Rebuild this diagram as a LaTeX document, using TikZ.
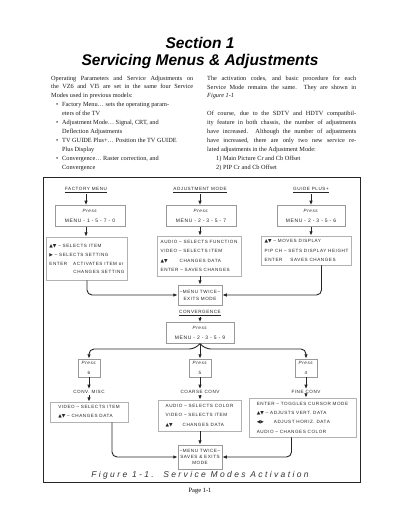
\documentclass[tikz,border=0pt]{standalone}
\usepackage{fontspec}
\setmainfont{Liberation Serif}
\newfontfamily\ttlfont{Liberation Sans}
\newfontfamily\dgfont[LetterSpace=12]{Liberation Sans}
\newfontfamily\capfont[LetterSpace=28]{Liberation Sans}
\newfontfamily\symfont{DejaVu Sans}
\usetikzlibrary{arrows.meta}
\newcommand\UD{{\symfont ▲▼}}
\newcommand\RT{{\symfont ▶}}
\newcommand\LR{{\symfont ◀▶}}
\newcommand\JL[2]{\makebox[#1][s]{#2}}
\newcommand\BL[1]{\hspace*{5pt}\makebox[6pt][l]{•}#1}
\newcommand\BC[1]{\hspace*{11pt}#1}
\newcommand\CODE[1]{{\fontsize{5}{9.3}\selectfont #1}}
\tikzset{
  body/.style={font=\fontsize{6.3}{8.9}\selectfont, align=left, inner sep=0pt, text=black!90},
  dg/.style={font=\dgfont\fontsize{4.6}{9.3}\selectfont, text=black!85, inner sep=1pt},
  hd/.style={dg},
  pbox/.style={dg, draw=black!40, line width=0.5pt, align=center, minimum height=21pt, inner sep=1.5pt},
  dbox/.style={dg, draw=black!30, line width=0.5pt, align=left, inner sep=3pt},
  con/.style={line width=0.9pt, draw=black!85},
  arr/.style={con, -{Latex[length=4.5pt,width=3.5pt]}},
}
\begin{document}
\begin{tikzpicture}[x=1pt,y=-1pt]
\useasboundingbox (0,0) rectangle (400,518);
\fill[white] (0,0) rectangle (400,518);
% title
\node[font=\ttlfont\bfseries\itshape\fontsize{15.5}{18}\selectfont, inner sep=0] (t1) at (200,43) {Section 1};
\node[font=\ttlfont\bfseries\itshape\fontsize{15.5}{18}\selectfont, inner sep=0] (t2) at (200,61) {Servicing Menus \& Adjustments};
% body columns
\node[body, anchor=north west] (lc) at (51,75.5) {%
\JL{142pt}{Operating Parameters and Service Adjustments on}\\
\JL{142pt}{the VZ6 and VI5 are set in the same four Service}\\
Modes used in previous models:\\
\BL{Factory Menu… sets the operating param-}\\
\BC{eters of the TV}\\
\BL{Adjustment Mode… Signal, CRT, and}\\
\BC{Deflection Adjustments}\\
\BL{TV GUIDE Plus+… Position the TV GUIDE}\\
\BC{Plus Display}\\
\BL{Convergence… Raster correction, and}\\
\BC{Convergence}};
\node[body, anchor=north west] (rc) at (207,75.5) {%
\JL{149pt}{The activation codes, and basic procedure for each}\\
\JL{149pt}{Service Mode remains the same.\ \ They are shown in}\\
\textit{Figure 1-1}\\
\mbox{}\\
\JL{149pt}{Of course, due to the SDTV and HDTV compatibil-}\\
\JL{149pt}{ity feature in both chassis, the number of adjustments}\\
\JL{149pt}{have increased.\ \ Although the number of adjustments}\\
\JL{149pt}{have increased, there are only two new service re-}\\
lated adjustments in the Adjustment Mode:\\
\hspace*{9pt}1) Main Picture Cr and Cb Offset\\
\hspace*{9pt}2) PIP Cr and Cb Offset};
% frame
\draw[line width=0.9pt, black!85] (43,177) rectangle (360,482);
% top row
\node[hd] (fm) at (86,190) {\underline{FACTORY MENU}};
\node[hd] (am) at (200,190) {\underline{ADJUSTMENT MODE}};
\node[hd] (gm) at (311,190) {\underline{GUIDE PLUS+}};
\node[pbox, minimum width=70pt] (fp) at (90,216) {\textit{Press}\\\CODE{MENU - 1 - 5 - 7 - 0}};
\node[pbox, minimum width=70pt] (ap) at (201,216) {\textit{Press}\\\CODE{MENU - 2 - 3 - 5 - 7}};
\node[pbox, minimum width=68pt] (gp) at (311,216) {\textit{Press}\\\CODE{MENU - 2 - 3 - 5 - 6}};
\node[dbox, minimum width=81pt, minimum height=43pt] (fd) at (87,258.5) {%
\UD{} – SELECTS ITEM\\
\RT{} – SELECTS SETTING\\
ENTER\hspace{6pt}ACTIVATES ITEM or\\[-2pt]
\hspace*{24pt}CHANGES SETTING};
\node[dbox, minimum width=84pt, minimum height=40pt] (ad) at (199,256) {%
AUDIO – SELECTS FUNCTION\\
VIDEO – SELECTS ITEM\\
\UD\hspace{12pt}CHANGES DATA\\
ENTER – SAVES CHANGES};
\node[dbox, minimum width=87pt, minimum height=29pt] (gd) at (306.5,250.5) {%
\UD{} – MOVES DISPLAY\\
PIP CH – SETS DISPLAY HEIGHT\\
ENTER\hspace{8pt}SAVES CHANGES};
\draw[arr] (fm.south) -- (fm.south |- fp.north);
\draw[arr] (am.south) -- (am.south |- ap.north);
\draw[arr] (gm.south) -- (gp.north);
\draw[arr] (fm.south |- fp.south) -- (fm.south |- fd.north);
\draw[arr] (am.south |- ap.south) -- (am.south |- ad.north);
\draw[arr] (gp.south) -- (gp.south |- gd.north);
\node[pbox, minimum width=44pt, minimum height=20pt, font=\dgfont\fontsize{4.6}{7}\selectfont] (ex) at (200,295) {–MENU TWICE–\\EXITS MODE};
\draw[arr, rounded corners=5pt] (fd.south) |- (ex.west);
\draw[arr, rounded corners=5pt] ([xshift=15pt]gd.south) |- (ex.east);
\draw[arr] (ad.south -| ex.north) -- (ex.north);
% convergence
\node[hd] (cv) at (200,313) {\underline{CONVERGENCE}};
\node[pbox, minimum width=68pt] (cp) at (200,333) {\textit{Press}\\\CODE{MENU - 2 - 3 - 5 - 9}};
\draw[arr] (cv.south) -- (cp.north);
\coordinate (jn) at (200,349);
\node[pbox, minimum width=22pt, minimum height=18pt] (p6) at (89,368) {\textit{Press}\\6};
\node[pbox, minimum width=22pt, minimum height=18pt] (p5) at (200,368) {\textit{Press}\\5};
\node[pbox, minimum width=22pt, minimum height=18pt] (p4) at (306,368) {\textit{Press}\\4};
\draw[arr, rounded corners=5pt] (cp.south) -- ([xshift=-6pt]jn) -- (jn -| p6.north) -- (p6.north);
\draw[arr, rounded corners=5pt] (cp.south) -- ([xshift=6pt]jn) -- (jn -| p4.north) -- (p4.north);
\draw[arr] (cp.south) -- (p5.north);
\node[hd] (cm) at (89,392) {CONV. MISC};
\node[hd] (cc) at (200,392) {COARSE CONV};
\node[hd] (fc) at (306,392) {FINE CONV};
\draw[arr] (p6.south) -- (cm.north);
\draw[arr] (p5.south) -- (cc.north);
\draw[arr] (p4.south) -- (fc.north);
\node[dbox, minimum width=78pt, minimum height=20pt] (md) at (89,412) {%
VIDEO – SELECTS ITEM\\
\UD{} – CHANGES DATA};
\node[dbox, minimum width=83pt, minimum height=31pt] (cd) at (199.5,415.5) {%
AUDIO – SELECTS COLOR\\
VIDEO – SELECTS ITEM\\
\UD\hspace{10pt}CHANGES DATA};
\node[dbox, minimum width=107pt, minimum height=39pt] (nd) at (302.5,417.5) {%
ENTER – TOGGLES CURSOR MODE\\
\UD{} – ADJUSTS VERT. DATA\\
\LR\hspace{10pt}ADJUST HORIZ. DATA\\
AUDIO – CHANGES COLOR};
\draw[arr] (cm.south) -- (cm.south |- md.north);
\draw[arr] (cc.south) -- (cc.south |- cd.north);
\draw[arr] (fc.south) -- (fc.south |- nd.north);
\node[pbox, minimum width=44pt, minimum height=24pt, font=\dgfont\fontsize{4.6}{6.3}\selectfont] (sx) at (200,457) {–MENU TWICE–\\SAVES \& EXITS\\MODE};
\draw[arr, rounded corners=5pt] ([xshift=23pt]md.south) |- (sx.west);
\draw[arr, rounded corners=5pt] ([xshift=-11pt]nd.south) |- (sx.east);
\draw[arr] (cd.south -| sx.north) -- (sx.north);
% caption
\node[font=\capfont\itshape\fontsize{8.5}{10}\selectfont, text=black!80, inner sep=0] (cap) at (200,475) {Figure 1-1.\ \ Service Modes Activation};
\node[font=\fontsize{6.5}{8}\selectfont, inner sep=0] (pg) at (200,491) {Page 1-1};
\end{tikzpicture}
\end{document}
